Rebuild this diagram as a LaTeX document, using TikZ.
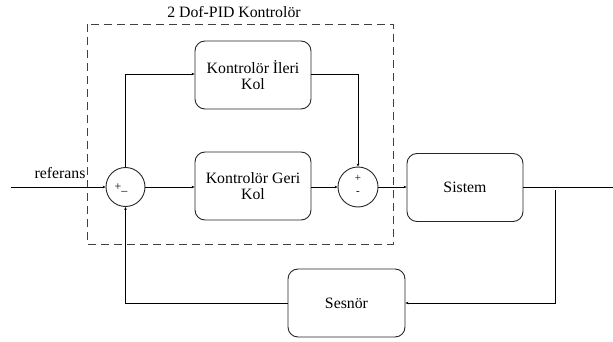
\documentclass[tikz,border=0pt]{standalone}
\usepackage{fontspec}
\setmainfont{Liberation Serif}
\usetikzlibrary{arrows.meta}
\tikzset{
  blk/.style={draw=black!85, line width=0.9pt, rounded corners=10pt, minimum width=116pt, minimum height=68pt, align=center, inner sep=0pt, font=\fontsize{15.8}{16.5}\selectfont},
  sumnode/.style={draw=black!85, line width=0.9pt, circle, minimum size=39pt, inner sep=0pt},
  conn/.style={line width=0.8pt, -{Stealth[length=3pt,width=2.6pt]}},
  plain/.style={line width=0.8pt},
  lbl/.style={inner sep=0pt, font=\fontsize{15.8}{16.5}\selectfont}
}
\begin{document}
\begin{tikzpicture}[x=1pt,y=-1pt]
\useasboundingbox (0,0) rectangle (613,342);
% dashed frame
\draw[black!75, line width=0.9pt, dash pattern=on 8pt off 5pt] (87,24) rectangle (393,244);
\node[lbl] (title) at (234,12) {2 Dof-PID Kontrolör};
% blocks
\node[blk] (ileri) at (253,75) {Kontrolör İleri\\Kol};
\node[blk] (geri) at (253,186) {Kontrolör Geri\\Kol};
\node[blk] (sistem) at (465,187.5) {Sistem};
\node[blk, minimum width=117pt] (sesnor) at (346.5,303) {Sesnör};
\node[sumnode] (s1) at (125.5,187) {};
\node[sumnode, minimum size=40pt] (s2) at (358,187) {};
\node[inner sep=0pt, font=\fontsize{12}{12}\selectfont] (s1t) at (121,188) {+\_};
\node[inner sep=0pt, font=\fontsize{11}{11}\selectfont] (s2p) at (358,178) {+};
\node[inner sep=0pt, font=\fontsize{11}{11}\selectfont] (s2m) at (358,193) {-};
\node[lbl] (ref) at (60,173) {referans};
% coordinates
\coordinate (in) at (11,187);
\coordinate (up1) at (125.5,74);
\coordinate (up2) at (358,74);
\coordinate (out) at (613,187);
\coordinate (fb1) at (555,190);
\coordinate (fb2) at (555,303);
\coordinate (fb3) at (125.5,303);
% connectors
\draw[conn] (in) -- (s1.west);
\draw[conn] (s1.north) -- (up1) -- (ileri.west |- up1);
\draw[conn] (ileri.east |- up2) -- (up2) -- (s2.north);
\draw[conn] (s1.east) -- (geri.west |- s1.east);
\draw[conn] (geri.east |- s2.west) -- (s2.west);
\draw[conn] (s2.east) -- (sistem.west |- s2.east);
\draw[plain] (sistem.east |- out) -- (out);
\draw[conn] (fb1) -- (fb2) -- (sesnor.east);
\draw[conn] (sesnor.west) -- (fb3) -- (s1.south);
\end{tikzpicture}
\end{document}
